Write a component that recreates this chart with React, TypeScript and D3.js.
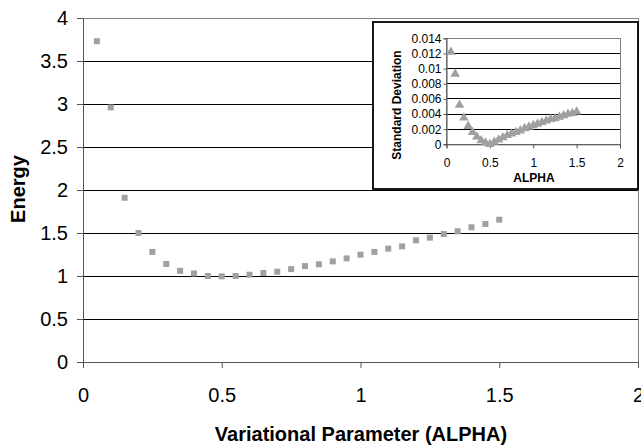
import React, { useEffect, useRef } from 'react';
import * as d3 from 'd3';

// alpha values shared by both series
const alpha = [0.05, 0.1, 0.15, 0.2, 0.25, 0.3, 0.35, 0.4, 0.45, 0.5,
  0.55, 0.6, 0.65, 0.7, 0.75, 0.8, 0.85, 0.9, 0.95, 1.0,
  1.05, 1.1, 1.15, 1.2, 1.25, 1.3, 1.35, 1.4, 1.45, 1.5];

const energy = [3.73, 2.96, 1.91, 1.5, 1.28, 1.14, 1.06, 1.03, 1.0, 0.996,
  1.0, 1.015, 1.035, 1.05, 1.08, 1.115, 1.136, 1.17, 1.205, 1.248,
  1.28, 1.318, 1.345, 1.415, 1.446, 1.488, 1.52, 1.566, 1.605, 1.655];

const stdDev = [0.0122, 0.0093, 0.0052, 0.0035, 0.0024, 0.0016, 0.001, 0.0005, 0.0002, 0.0,
  0.0003, 0.0006, 0.0009, 0.0012, 0.0014, 0.0016, 0.0018, 0.0021, 0.0023, 0.0025,
  0.0027, 0.0029, 0.0031, 0.0033, 0.0034, 0.0036, 0.0038, 0.004, 0.0041, 0.0043];

const mainXTicks = [0, 0.5, 1, 1.5, 2];
const mainYTicks = [0, 0.5, 1, 1.5, 2, 2.5, 3, 3.5, 4];
const insetXTicks = [0, 0.5, 1, 1.5, 2];
const insetYTicks = [0, 0.002, 0.004, 0.006, 0.008, 0.01, 0.012, 0.014];

const FONT = 'Liberation Sans, Arial, sans-serif';
const MARK = '#a0a0a0';

const drawChart = (el: SVGSVGElement) => {
  const svg = d3.select(el);
  svg.selectAll('*').remove();

  // main plot
  const x = d3.scaleLinear().domain([0, 2]).range([83, 638]);
  const y = d3.scaleLinear().domain([0, 4]).range([362, 18]);

  svg.append('g').selectAll('line')
    .data(mainYTicks.filter(d => d > 0))
    .enter().append('line')
    .attr('x1', x(0)).attr('x2', x(2))
    .attr('y1', d => y(d)).attr('y2', d => y(d))
    .attr('stroke', '#000').attr('stroke-width', 1)
    .attr('shape-rendering', 'crispEdges');

  svg.append('rect')
    .attr('x', x(0)).attr('y', y(4))
    .attr('width', x(2) - x(0)).attr('height', y(0) - y(4))
    .attr('fill', 'none').attr('stroke', '#808080')
    .attr('shape-rendering', 'crispEdges');

  const xAxis = d3.axisBottom(x).tickValues(mainXTicks).tickSize(6).tickPadding(20)
    .tickFormat(d => String(d));
  const gx = svg.append('g').attr('transform', `translate(0,${y(0)})`).call(xAxis);
  gx.select('.domain').attr('stroke', '#555');
  gx.selectAll('line').attr('stroke', '#555');
  gx.selectAll('text').attr('font-family', FONT).attr('font-size', 20).attr('fill', '#000');

  const yAxis = d3.axisLeft(y).tickValues(mainYTicks).tickSize(6).tickPadding(9)
    .tickFormat(d => String(d));
  const gy = svg.append('g').attr('transform', `translate(${x(0)},0)`).call(yAxis);
  gy.select('.domain').attr('stroke', '#555');
  gy.selectAll('line').attr('stroke', '#555');
  gy.selectAll('text').attr('font-family', FONT).attr('font-size', 20).attr('fill', '#000');

  svg.append('g').selectAll('rect')
    .data(alpha)
    .enter().append('rect')
    .attr('x', d => x(d) - 3)
    .attr('y', (d, i) => y(energy[i]) - 3)
    .attr('width', 6).attr('height', 6)
    .attr('fill', MARK);

  svg.append('text')
    .attr('x', 361).attr('y', 441)
    .attr('text-anchor', 'middle')
    .attr('font-family', FONT).attr('font-size', 20).attr('font-weight', 'bold')
    .text('Variational Parameter (ALPHA)');

  svg.append('text')
    .attr('transform', 'translate(25,189) rotate(-90)')
    .attr('text-anchor', 'middle')
    .attr('font-family', FONT).attr('font-size', 20).attr('font-weight', 'bold')
    .text('Energy');

  // inset
  svg.append('rect')
    .attr('x', 373).attr('y', 22).attr('width', 265).attr('height', 167)
    .attr('fill', '#fff').attr('stroke', '#000').attr('stroke-width', 1.8);

  const ix = d3.scaleLinear().domain([0, 2]).range([446.5, 620]);
  const iy = d3.scaleLinear().domain([0, 0.014]).range([144.3, 38.3]);

  svg.append('g').selectAll('line')
    .data(insetYTicks.filter(d => d > 0))
    .enter().append('line')
    .attr('x1', ix(0)).attr('x2', ix(2))
    .attr('y1', d => iy(d)).attr('y2', d => iy(d))
    .attr('stroke', '#000')
    .attr('shape-rendering', 'crispEdges');

  svg.append('rect')
    .attr('x', ix(0)).attr('y', iy(0.014))
    .attr('width', ix(2) - ix(0)).attr('height', iy(0) - iy(0.014))
    .attr('fill', 'none').attr('stroke', '#808080')
    .attr('shape-rendering', 'crispEdges');

  const ixAxis = d3.axisBottom(ix).tickValues(insetXTicks).tickSize(4).tickPadding(10)
    .tickFormat(d => String(d));
  const gix = svg.append('g').attr('transform', `translate(0,${iy(0)})`).call(ixAxis);
  gix.select('.domain').attr('stroke', '#555');
  gix.selectAll('line').attr('stroke', '#555');
  gix.selectAll('text').attr('font-family', FONT).attr('font-size', 12).attr('fill', '#000');

  const iyAxis = d3.axisLeft(iy).tickValues(insetYTicks).tickSize(3).tickPadding(2)
    .tickFormat(d => String(d));
  const giy = svg.append('g').attr('transform', `translate(${ix(0)},0)`).call(iyAxis);
  giy.select('.domain').attr('stroke', '#555');
  giy.selectAll('line').attr('stroke', '#555');
  giy.selectAll('text').attr('font-family', FONT).attr('font-size', 12).attr('fill', '#000');

  const tri = d3.symbol().type(d3.symbolTriangle).size(40);
  svg.append('g').selectAll('path')
    .data(alpha)
    .enter().append('path')
    .attr('d', tri)
    .attr('transform', (d, i) => `translate(${ix(d)},${iy(stdDev[i])})`)
    .attr('fill', MARK);

  svg.append('text')
    .attr('x', 534).attr('y', 182)
    .attr('text-anchor', 'middle')
    .attr('font-family', FONT).attr('font-size', 12).attr('font-weight', 'bold')
    .text('ALPHA');

  svg.append('text')
    .attr('transform', 'translate(401,105) rotate(-90)')
    .attr('text-anchor', 'middle')
    .attr('font-family', FONT).attr('font-size', 12).attr('font-weight', 'bold')
    .text('Standard Deviation');
};

const App = () => {
  const ref = useRef<SVGSVGElement>(null);
  useEffect(() => {
    if (ref.current) drawChart(ref.current);
  }, []);
  return (
    <svg
      ref={ref}
      width={641}
      height={446}
      style={{ position: 'absolute', left: 0, top: 0, background: '#fff' }}
    />
  );
};

export default App;
